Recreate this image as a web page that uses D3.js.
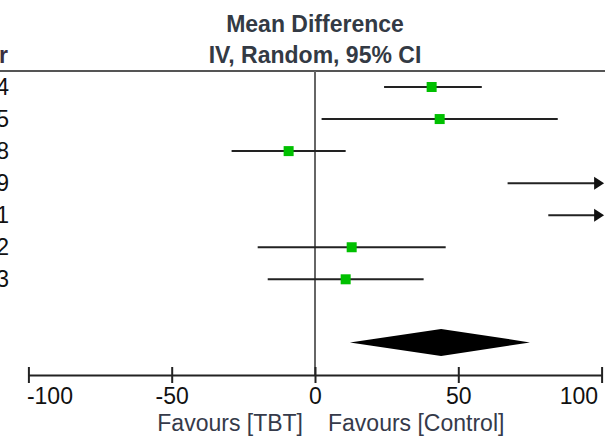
<!DOCTYPE html>
<html>
<head>
<meta charset="utf-8">
<script src="https://cdn.jsdelivr.net/npm/d3@7"></script>
<style>
  body { margin: 0; background: #fff; }
  svg { display: block; font-family: "Liberation Sans", Arial, sans-serif; }
</style>
</head>
<body>
<svg id="forest"></svg>
<script>
// ━━━━━━━━━━━━━━━━━━━━━━━━━━━━━━━━━━━━━━━━━━━━━━━━━━━━━━━━━━━━━━━━━━━━━━━━━━━━━━
// Data /////////////////////////////////////////////////////////////////////////
// ━━━━━━━━━━━━━━━━━━━━━━━━━━━━━━━━━━━━━━━━━━━━━━━━━━━━━━━━━━━━━━━━━━━━━━━━━━━━━━

const studies  = ['2014', '2015', '2018', '2019', '2021', '2022', '2023'];
const meanDiff = [40.7, 43.5, -9.2, 128.0, 141.0, 12.8, 10.7];
const ciLower  = [24.1, 2.3, -29.1, 67.2, 81.4, -20.0, -16.5];
const ciUpper  = [58.2, 84.7, 10.7, 188.8, 200.6, 45.6, 37.9];
const pooled   = [44.0, 12.2, 75.0];   // mean, lower, upper
const xTicks   = [-100, -50, 0, 50, 100];
const headings = ['Mean Difference', 'IV, Random, 95% CI'];
const favours  = ['Favours [TBT]', 'Favours [Control]'];

const width = 605;
const height = 438;
const axis_y = 375;

const rows = studies.map((s, i) => ({ study: s, md: meanDiff[i], lo: ciLower[i], hi: ciUpper[i] }));

// ━━━━━━━━━━━━━━━━━━━━━━━━━━━━━━━━━━━━━━━━━━━━━━━━━━━━━━━━━━━━━━━━━━━━━━━━━━━━━━
// Scales ///////////////////////////////////////////////////////////////////////
// ━━━━━━━━━━━━━━━━━━━━━━━━━━━━━━━━━━━━━━━━━━━━━━━━━━━━━━━━━━━━━━━━━━━━━━━━━━━━━━

const x = d3.scaleLinear().domain([-100, 100]).range([28.4, 601.6]);
const y = d3.scalePoint().domain([...studies, 'gap', 'Total']).range([87, 343.4]);
const clampX = v => x(Math.max(-100, Math.min(100, v)));

const svg = d3.select('#forest')
  .attr('width', width)
  .attr('height', height)
  .attr('viewBox', [0, 0, width, height]);

svg.append('rect').attr('width', width).attr('height', height).attr('fill', '#fff');

// headings
svg.selectAll('text.heading')
  .data(headings)
  .join('text')
  .attr('class', 'heading')
  .attr('x', x(0))
  .attr('y', (d, i) => 32 + i * 31)
  .attr('text-anchor', 'middle')
  .attr('font-size', 23)
  .attr('font-weight', 'bold')
  .attr('fill', '#333a44')
  .text(d => d);

svg.append('text')
  .attr('x', 8)
  .attr('y', 63)
  .attr('text-anchor', 'end')
  .attr('font-size', 23)
  .attr('font-weight', 'bold')
  .attr('fill', '#3a3040')
  .text('Year');

// header rule
svg.append('line')
  .attr('x1', 0).attr('x2', width)
  .attr('y1', 71).attr('y2', 71)
  .attr('stroke', '#555').attr('stroke-width', 2);

// line of no effect
svg.append('line')
  .attr('x1', x(0)).attr('x2', x(0))
  .attr('y1', 71).attr('y2', axis_y)
  .attr('stroke', '#666').attr('stroke-width', 2);

// study years (cut at the left edge)
svg.selectAll('text.study')
  .data(rows)
  .join('text')
  .attr('class', 'study')
  .attr('x', 9)
  .attr('y', d => y(d.study) + 8)
  .attr('text-anchor', 'end')
  .attr('font-size', 23)
  .attr('fill', '#111')
  .text(d => d.study);

// ━━━━━━━━━━━━━━━━━━━━━━━━━━━━━━━━━━━━━━━━━━━━━━━━━━━━━━━━━━━━━━━━━━━━━━━━━━━━━━
// Confidence intervals + squares ///////////////////////////////////////////////
// ━━━━━━━━━━━━━━━━━━━━━━━━━━━━━━━━━━━━━━━━━━━━━━━━━━━━━━━━━━━━━━━━━━━━━━━━━━━━━━

const g = svg.append('g');

g.selectAll('line.ci')
  .data(rows)
  .join('line')
  .attr('class', 'ci')
  .attr('x1', d => clampX(d.lo))
  .attr('x2', d => d.hi > 100 ? x(100) - 6 : clampX(d.hi))
  .attr('y1', d => y(d.study))
  .attr('y2', d => y(d.study))
  .attr('stroke', '#222')
  .attr('stroke-width', 2);

g.selectAll('path.arrow')
  .data(rows.filter(d => d.hi > 100))
  .join('path')
  .attr('class', 'arrow')
  .attr('d', d => {
    const tip = x(100) + 2.5, yy = y(d.study);
    return `M${tip},${yy} L${tip - 10},${yy - 6.5} L${tip - 10},${yy + 6.5} Z`;
  })
  .attr('fill', '#111');

g.selectAll('rect.point')
  .data(rows.filter(d => d.md >= -100 && d.md <= 100))
  .join('rect')
  .attr('class', 'point')
  .attr('x', d => x(d.md) - 5)
  .attr('y', d => y(d.study) - 5)
  .attr('width', 10)
  .attr('height', 10)
  .attr('fill', '#00c000');

// pooled diamond
svg.append('path')
  .datum(pooled)
  .attr('d', d => {
    const cy = y('Total') - 1;
    return `M${x(d[1])},${cy} L${x(d[0])},${cy - 13.5} L${x(d[2])},${cy} L${x(d[0])},${cy + 13.5} Z`;
  })
  .attr('fill', '#000');

// ━━━━━━━━━━━━━━━━━━━━━━━━━━━━━━━━━━━━━━━━━━━━━━━━━━━━━━━━━━━━━━━━━━━━━━━━━━━━━━
// Axis /////////////////////////////////////////////////////////////////////////
// ━━━━━━━━━━━━━━━━━━━━━━━━━━━━━━━━━━━━━━━━━━━━━━━━━━━━━━━━━━━━━━━━━━━━━━━━━━━━━━

const axis = svg.append('g')
  .attr('transform', `translate(0,${axis_y})`)
  .call(d3.axisBottom(x).tickValues(xTicks).tickSizeInner(8).tickSizeOuter(0).tickPadding(5)
    .tickFormat(d => String(d)));

axis.select('.domain').attr('stroke', '#222').attr('stroke-width', 2);
axis.selectAll('.tick line').attr('y1', -8).attr('stroke', '#222').attr('stroke-width', 2);
axis.selectAll('.tick text')
  .attr('font-size', 23)
  .attr('font-family', '"Liberation Sans", Arial, sans-serif')
  .attr('fill', '#111')
  .attr('text-anchor', d => d === -100 ? 'start' : d === 100 ? 'end' : 'middle')
  .attr('dx', d => d === -100 ? -2 : d === 100 ? -4 : 0);

svg.selectAll('text.favours')
  .data(favours)
  .join('text')
  .attr('class', 'favours')
  .attr('x', (d, i) => i === 0 ? 303 : 328)
  .attr('y', 431)
  .attr('text-anchor', (d, i) => i === 0 ? 'end' : 'start')
  .attr('font-size', 23)
  .attr('fill', '#353a4a')
  .text(d => d);
</script>
</body>
</html>
